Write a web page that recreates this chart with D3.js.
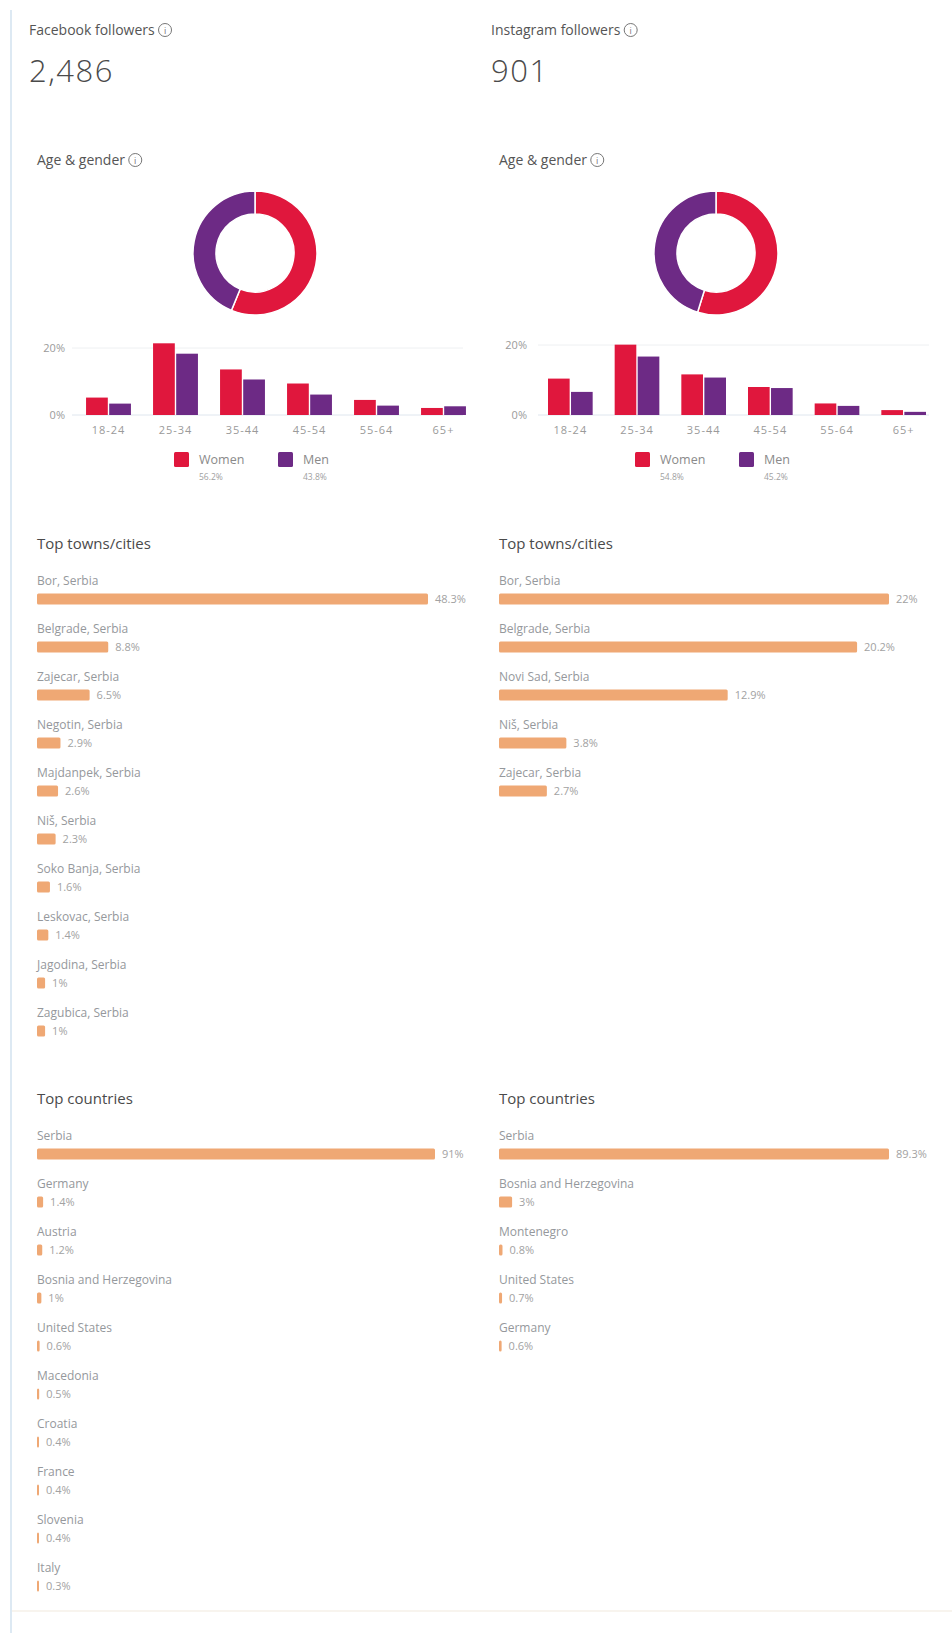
<!DOCTYPE html>
<html>
<head>
<meta charset="utf-8">
<script src="https://cdn.jsdelivr.net/npm/d3@7"></script>
<style>
  html, body { margin: 0; padding: 0; background: #fff; }
  svg { display: block; font-family: "Open Sans", "Noto Sans", sans-serif; }
</style>
</head>
<body>
<svg id="chart" width="952" height="1633"></svg>
<script>
// ---------------- DATA ----------------
const platforms = ["Facebook followers", "Instagram followers"];
const followerCounts = ["2,486", "901"];

const ageGroups = ["18-24", "25-34", "35-44", "45-54", "55-64", "65+"];
const genderLabels = ["Women", "Men"];
const yTicks = [0, 20];

const fbWomen = [5.2, 21.4, 13.6, 9.4, 4.5, 2.1];
const fbMen   = [3.4, 18.3, 10.6, 6.1, 2.8, 2.6];
const igWomen = [10.4, 20.1, 11.6, 8.0, 3.3, 1.4];
const igMen   = [6.6, 16.7, 10.7, 7.7, 2.6, 0.9];

const fbGenderShare = [56.2, 43.8];
const igGenderShare = [54.8, 45.2];

const fbTowns = ["Bor, Serbia", "Belgrade, Serbia", "Zajecar, Serbia", "Negotin, Serbia", "Majdanpek, Serbia",
                 "Niš, Serbia", "Soko Banja, Serbia", "Leskovac, Serbia", "Jagodina, Serbia", "Zagubica, Serbia"];
const fbTownValues = [48.3, 8.8, 6.5, 2.9, 2.6, 2.3, 1.6, 1.4, 1, 1];

const igTowns = ["Bor, Serbia", "Belgrade, Serbia", "Novi Sad, Serbia", "Niš, Serbia", "Zajecar, Serbia"];
const igTownValues = [22, 20.2, 12.9, 3.8, 2.7];

const fbCountries = ["Serbia", "Germany", "Austria", "Bosnia and Herzegovina", "United States",
                     "Macedonia", "Croatia", "France", "Slovenia", "Italy"];
const fbCountryValues = [91, 1.4, 1.2, 1, 0.6, 0.5, 0.4, 0.4, 0.4, 0.3];

const igCountries = ["Serbia", "Bosnia and Herzegovina", "Montenegro", "United States", "Germany"];
const igCountryValues = [89.3, 3, 0.8, 0.7, 0.6];

// ---------------- STYLE / LAYOUT ----------------
const RED = "#e0173d", PURPLE = "#6d2a85", ORANGE = "#efa874";
const svg = d3.select("#chart");

// left border & faint card edge
svg.append("line").attr("x1", 11).attr("x2", 11).attr("y1", 10).attr("y2", 1633)
  .attr("stroke", "#dde9f3").attr("stroke-width", 2);
svg.append("line").attr("x1", 12).attr("x2", 952).attr("y1", 1611).attr("y2", 1611)
  .attr("stroke", "#f8f4ee").attr("stroke-width", 2);

function fmtPct(v) { return d3.format("~r")(v) + "%"; }

function infoIcon(g, textSel, cy) {
  const bb = textSel.node().getBBox();
  const cx = bb.x + bb.width + 10;
  g.append("circle").attr("cx", cx).attr("cy", cy).attr("r", 6.5)
    .attr("fill", "none").attr("stroke", "#777").attr("stroke-width", 1);
  g.append("text").attr("x", cx).attr("y", cy + 3.5).attr("text-anchor", "middle")
    .attr("font-size", 9).attr("fill", "#777").text("i");
}

const panels = [
  { name: platforms[0], count: followerCounts[0], hx: 29, cx: 37, women: fbWomen, men: fbMen,
    share: fbGenderShare, donutX: 255, band: [75, 477], grid: [72, 463], y20: 348,
    towns: fbTowns, townVals: fbTownValues, townW: 391,
    countries: fbCountries, countryVals: fbCountryValues, countryW: 398 },
  { name: platforms[1], count: followerCounts[1], hx: 491, cx: 499, women: igWomen, men: igMen,
    share: igGenderShare, donutX: 716, band: [537, 937], grid: [538, 929], y20: 345,
    towns: igTowns, townVals: igTownValues, townW: 390,
    countries: igCountries, countryVals: igCountryValues, countryW: 390 }
];

function drawList(g, x0, titleY, title, names, vals, maxW) {
  g.append("text").attr("x", x0).attr("y", titleY).attr("font-size", 15)
    .attr("fill", "#4a4a4a").text(title);
  const x = d3.scaleLinear().domain([0, d3.max(vals)]).range([0, maxW]);
  const firstY = titleY + 35.5;
  const rows = g.selectAll(null).data(names.map((n, i) => ({ n, v: vals[i], i }))).enter()
    .append("g").attr("transform", d => `translate(${x0},${firstY + d.i * 48})`);
  rows.append("text").attr("x", 0).attr("y", 0).attr("font-size", 12)
    .attr("fill", "#95989c").text(d => d.n);
  rows.append("rect").attr("x", 0).attr("y", 9).attr("height", 11)
    .attr("width", d => Math.max(2, x(d.v))).attr("rx", 1.5).attr("fill", ORANGE);
  rows.append("text").attr("x", d => Math.max(2, x(d.v)) + 7).attr("y", 18.5)
    .attr("font-size", 11).attr("fill", "#a2a2a2").text(d => fmtPct(d.v));
}

panels.forEach(p => {
  const g = svg.append("g");
  // header
  const h = g.append("text").attr("x", p.hx).attr("y", 35).attr("font-size", 14)
    .attr("fill", "#555").text(p.name);
  infoIcon(g, h, 30);
  g.append("text").attr("x", p.hx).attr("y", 82).attr("font-size", 31).attr("font-weight", 300)
    .attr("letter-spacing", 1.5).attr("fill", "#4a4a4a").text(p.count);
  const ag = g.append("text").attr("x", p.cx).attr("y", 165).attr("font-size", 14)
    .attr("fill", "#555").text("Age & gender");
  infoIcon(g, ag, 160);

  // donut
  const pie = d3.pie().sort(null).value(d => d)(p.share);
  const arc = d3.arc().innerRadius(39).outerRadius(62);
  g.append("g").attr("transform", `translate(${p.donutX},253)`)
    .selectAll("path").data(pie).enter().append("path")
    .attr("d", arc).attr("fill", (d, i) => i === 0 ? RED : PURPLE)
    .attr("stroke", "#fff").attr("stroke-width", 1.5);

  // grouped bar chart
  const y = d3.scaleLinear().domain([0, 20]).range([415, p.y20]);
  const x0 = d3.scaleBand().domain(ageGroups).range(p.band).paddingInner(0.33).paddingOuter(0.165);
  const x1 = d3.scaleBand().domain(genderLabels).range([0, x0.bandwidth()]).paddingInner(0.06);

  g.selectAll(null).data(yTicks).enter().append("line")
    .attr("x1", p.grid[0]).attr("x2", p.grid[1]).attr("y1", d => y(d)).attr("y2", d => y(d))
    .attr("stroke", d => d === 0 ? "#dfe6ee" : "#eef0f2").attr("stroke-width", 1);
  g.selectAll(null).data(yTicks).enter().append("text")
    .attr("x", p.band[0] - 10).attr("y", d => y(d) + 4).attr("text-anchor", "end")
    .attr("font-size", 11).attr("fill", "#9a9a9a").text(d => d + "%");

  const groups = g.selectAll(null).data(ageGroups).enter().append("g")
    .attr("transform", d => `translate(${x0(d)},0)`);
  groups.selectAll("rect").data((d, i) => [
      { k: "Women", v: p.women[i] }, { k: "Men", v: p.men[i] }])
    .enter().append("rect")
    .attr("x", d => x1(d.k)).attr("width", x1.bandwidth())
    .attr("y", d => y(d.v)).attr("height", d => y(0) - y(d.v))
    .attr("fill", d => d.k === "Women" ? RED : PURPLE);

  const xAxis = d3.axisBottom(x0).tickSize(0).tickPadding(0);
  const ax = g.append("g").attr("transform", "translate(0,426)").call(xAxis);
  ax.select(".domain").remove();
  ax.selectAll("text").attr("font-size", 11).attr("fill", "#9a9a9a")
    .attr("letter-spacing", 1).attr("font-family", "'Open Sans', sans-serif");

  // legend
  const leg = g.append("g").attr("transform", `translate(${p.donutX},0)`);
  const items = leg.selectAll(null).data(genderLabels).enter().append("g")
    .attr("transform", (d, i) => `translate(${i === 0 ? -81 : 23},0)`);
  items.append("rect").attr("x", 0).attr("y", 452).attr("width", 15).attr("height", 15).attr("rx", 1.5)
    .attr("fill", (d, i) => i === 0 ? RED : PURPLE);
  items.append("text").attr("x", 25).attr("y", 464).attr("font-size", 12.5)
    .attr("fill", "#8a8a8a").text(d => d);
  items.append("text").attr("x", 25).attr("y", 480).attr("font-size", 8.5)
    .attr("fill", "#a0a0a0").text((d, i) => p.share[i] + "%");

  drawList(g, p.cx, 549, "Top towns/cities", p.towns, p.townVals, p.townW);
  drawList(g, p.cx, 1104, "Top countries", p.countries, p.countryVals, p.countryW);
});
</script>
</body>
</html>
